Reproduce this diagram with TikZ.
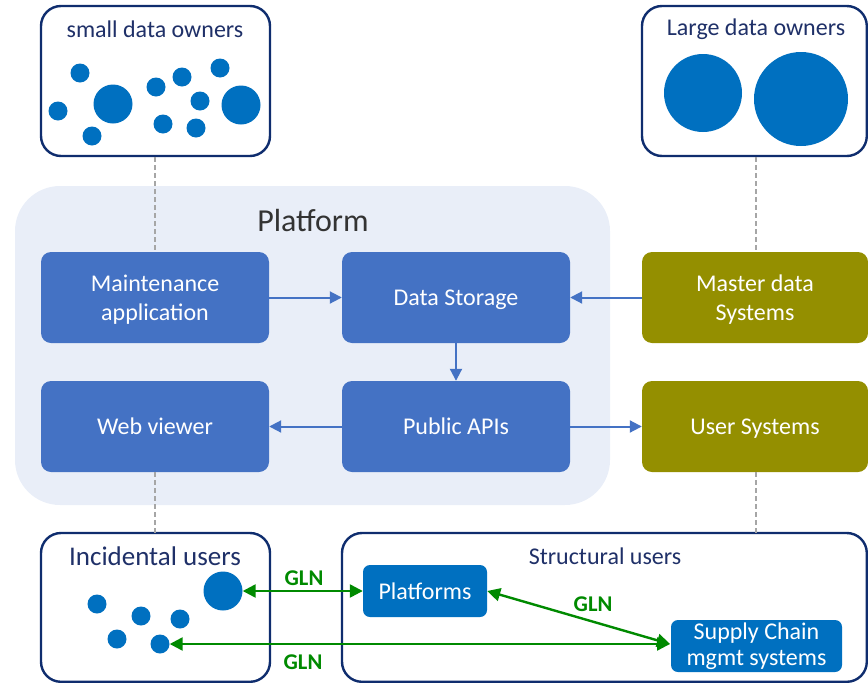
\documentclass[tikz,border=0pt]{standalone}
\usepackage{fontspec}
\setmainfont{Carlito}
\usetikzlibrary{arrows.meta}
\definecolor{navy}{HTML}{0F2D6E}
\definecolor{titletext}{HTML}{1F3068}
\definecolor{dot}{HTML}{0070C0}
\definecolor{platbg}{HTML}{E9EEF8}
\definecolor{appblue}{HTML}{4472C4}
\definecolor{olive}{HTML}{948F00}
\definecolor{glngreen}{HTML}{008A00}
\tikzset{
  group/.style={draw=navy, line width=2.4pt, rounded corners=20pt, fill=white},
  grouptitle/.style={text=titletext, font=\fontsize{24}{28}\selectfont},
  appbox/.style={fill=appblue, rounded corners=10pt, text=white, align=center,
    minimum width=228pt, minimum height=91pt, inner sep=0pt, text depth=0pt,
    font=\fontsize{24}{29}\selectfont},
  extbox/.style={appbox, fill=olive},
  userbox/.style={fill=dot, rounded corners=7pt, text=white, align=center,
    inner sep=0pt, font=\fontsize{24}{26}\selectfont},
  dotc/.style={circle, fill=dot, inner sep=0pt, minimum size=#1},
  flow/.style={draw=appblue, line width=2pt, -{Triangle[length=12pt,width=12pt]}},
  gln/.style={draw=glngreen, line width=2.4pt, {Triangle[length=13pt,width=13pt]}-{Triangle[length=13pt,width=13pt]}},
  glntext/.style={text=glngreen, font=\bfseries\fontsize{22.5}{26}\selectfont},
  link/.style={draw=gray!70, line width=1.3pt, dash pattern=on 5pt off 3pt},
}
\begin{document}
\begin{tikzpicture}[x=1pt,y=-1pt]
\useasboundingbox (0,0) rectangle (868,683);

% platform background
\fill[platbg, rounded corners=45pt] (15,186) rectangle (610,505);
\node[text=black!80, font=\fontsize{32}{36}\selectfont] (plattitle) at (313,221) {Platform};

% dashed links between the groups and the systems
\coordinate (sdoB) at (155,157);
\coordinate (ldoB) at (756,157);
\coordinate (incT) at (155,533);
\coordinate (strT) at (756,533);

% owner and user groups
\draw[group] (41,6) rectangle (270,156);
\node[grouptitle] (sdotitle) at (155,29) {small data owners};
\draw[group] (642,6) rectangle (866.8,156);
\node[grouptitle] (ldotitle) at (756,29) {Large data owners};
\draw[group] (41,533) rectangle (270,681.8);
\node[grouptitle, font=\fontsize{27}{31}\selectfont] (inctitle) at (155,556) {Incidental users};
\draw[group] (342,533) rectangle (866.8,681.8);
\node[grouptitle] (strtitle) at (605,556) {Structural users};

% small data owners
\node[dotc=19pt] (s1) at (80,73) {};
\node[dotc=39pt] (s2) at (113,104) {};
\node[dotc=19pt] (s3) at (58,111) {};
\node[dotc=19pt] (s4) at (92,136) {};
\node[dotc=19pt] (s5) at (156,87) {};
\node[dotc=19pt] (s6) at (182,77) {};
\node[dotc=19pt] (s7) at (220,68) {};
\node[dotc=19pt] (s8) at (200,101) {};
\node[dotc=19pt] (s9) at (163,124) {};
\node[dotc=19pt] (s10) at (196,128) {};
\node[dotc=39pt] (s11) at (241,105) {};

% large data owners
\node[dotc=78pt] (l1) at (703,93) {};
\node[dotc=94pt] (l2) at (801,99) {};

% incidental users
\node[dotc=39pt] (i1) at (223,591) {};
\node[dotc=19pt] (i2) at (97,604) {};
\node[dotc=19pt] (i3) at (141,616) {};
\node[dotc=19pt] (i4) at (180,619) {};
\node[dotc=19pt] (i5) at (117,639) {};
\node[dotc=19pt] (i6) at (160,644) {};

% platform components
\node[appbox] (maint) at (155,297.5) {Maintenance\\application};
\node[appbox] (store) at (456,297.5) {Data Storage};
\node[appbox] (web) at (155,426.5) {Web viewer};
\node[appbox] (api) at (456,426.5) {Public APIs};

% external systems
\node[extbox, minimum width=226pt] (master) at (755,297.5) {Master data\\Systems};
\node[extbox, minimum width=226pt] (usersys) at (755,426.5) {User Systems};

% structural users
\node[userbox, minimum width=124pt, minimum height=52pt] (plat) at (425,591) {Platforms};
\node[userbox, minimum width=171pt, minimum height=52pt] (scm) at (756.5,646) {Supply Chain\\mgmt systems};

% dashed links
\draw[link] (sdoB) -- (maint.north -| sdoB);
\draw[link] (web.south) -- (incT);
\draw[link] (ldoB) -- (master.north -| ldoB);
\draw[link] (usersys.south -| strT) -- (strT);

% data flows
\draw[flow] (maint.east) -- (store.west);
\draw[flow] (master.west) -- (store.east);
\draw[flow] (store.south) -- (api.north);
\draw[flow] (api.west) -- (web.east);
\draw[flow] (api.east) -- (usersys.west);

% GLN exchanges
\coordinate (scmin) at (670,644);
\draw[gln] (i1.east) -- (plat.west);
\node[glntext] (gln1) at (304,578) {GLN};
\draw[gln] (plat.east) -- (scmin);
\node[glntext] (gln2) at (593,604) {GLN};
\draw[gln] (i6.east) -- (scmin);
\node[glntext] (gln3) at (303,662) {GLN};
\end{tikzpicture}
\end{document}
